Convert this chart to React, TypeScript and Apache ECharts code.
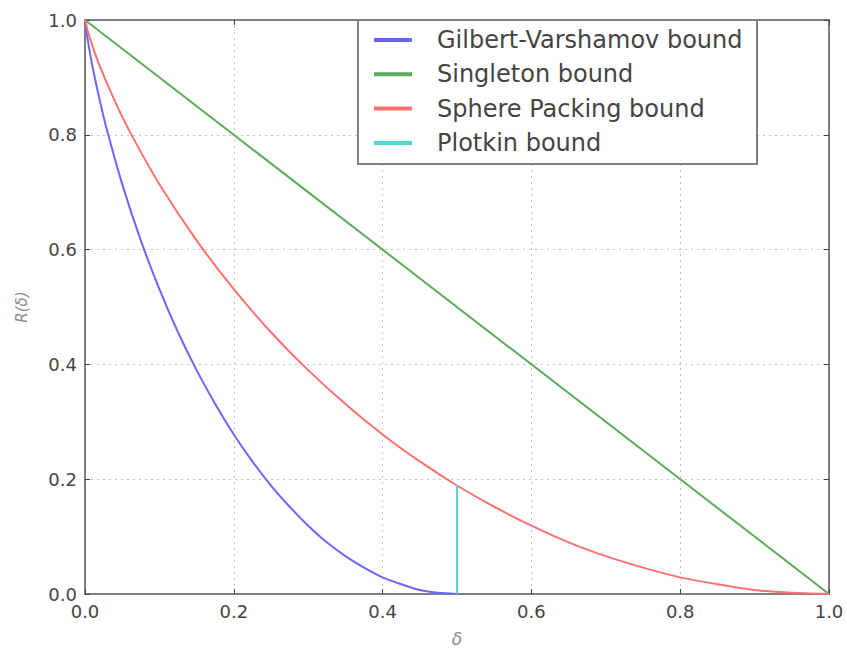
import React, { useEffect, useRef } from "react";
import * as echarts from "echarts";

// Gilbert-Varshamov bound
const deltaGV = [0, 0.0025, 0.005, 0.01, 0.02, 0.03, 0.05, 0.075, 0.1, 0.125, 0.15, 0.175, 0.2, 0.225, 0.25, 0.275, 0.3, 0.325, 0.35, 0.375, 0.4, 0.425, 0.45, 0.475, 0.5];
const rateGV = [1, 0.975, 0.955, 0.919, 0.859, 0.806, 0.714, 0.616, 0.531, 0.456, 0.39, 0.331, 0.278, 0.231, 0.189, 0.152, 0.119, 0.09, 0.066, 0.046, 0.029, 0.017, 0.007, 0.002, 0];

// Singleton bound
const deltaSingleton = [0, 1];
const rateSingleton = [1, 0];

// Sphere packing bound
const deltaSP = [0, 0.005, 0.01, 0.02, 0.04, 0.06, 0.1, 0.15, 0.2, 0.25, 0.3, 0.35, 0.4, 0.45, 0.5, 0.55, 0.6, 0.65, 0.7, 0.75, 0.8, 0.85, 0.9, 0.95, 1.0];
const rateSP = [1, 0.975, 0.955, 0.919, 0.859, 0.806, 0.714, 0.616, 0.531, 0.456, 0.39, 0.331, 0.278, 0.231, 0.189, 0.152, 0.119, 0.09, 0.066, 0.046, 0.029, 0.017, 0.007, 0.002, 0];

// Plotkin bound
const deltaPlotkin = [0.5, 0.5];
const ratePlotkin = [0, 0.19];

const seriesNames = ["Gilbert-Varshamov bound", "Singleton bound", "Sphere Packing bound", "Plotkin bound"];
const seriesColors = ["#6868ff", "#5aad5a", "#ff7070", "#55d6d6"];

const zip = (xs: number[], ys: number[]) => xs.map((x, i) => [x, ys[i]]);

export default function App() {
  const ref = useRef<HTMLDivElement>(null);
  useEffect(() => {
    document.body.style.margin = "0";
    const chart = echarts.init(ref.current!, null, { renderer: "svg" });
    const font = "DejaVu Sans";
    const frame = { show: true, onZero: false, lineStyle: { color: "#808080", width: 2 } };
    const tick = { show: true, inside: true, length: 5, lineStyle: { color: "#444", width: 1 } };
    const split = { show: true, lineStyle: { color: "#c4c4c4", type: [2, 4] as any, width: 1 } };
    const label = { show: true, fontSize: 18, color: "#444", fontFamily: font, margin: 8, formatter: (v: number) => v.toFixed(1) };
    const datasets = [
      zip(deltaGV, rateGV),
      zip(deltaSingleton, rateSingleton),
      zip(deltaSP, rateSP),
      zip(deltaPlotkin, ratePlotkin),
    ];
    chart.setOption({
      animation: false,
      backgroundColor: "#ffffff",
      grid: { left: 85, right: 18, top: 20, bottom: 57, containLabel: false },
      xAxis: [
        {
          type: "value", min: 0, max: 1, interval: 0.2, position: "bottom",
          axisLine: frame, axisTick: tick, splitLine: split, axisLabel: label,
          name: "δ", nameLocation: "middle", nameGap: 36,
          nameTextStyle: { fontSize: 17, fontStyle: "italic", color: "#8a8a8a", fontFamily: font },
        },
        {
          type: "value", min: 0, max: 1, interval: 0.2, position: "top",
          axisLine: frame, axisTick: tick, splitLine: { show: false }, axisLabel: { show: false },
        },
      ],
      yAxis: [
        {
          type: "value", min: 0, max: 1, interval: 0.2, position: "left",
          axisLine: frame, axisTick: tick, splitLine: split, axisLabel: label,
          name: "R(δ)", nameLocation: "middle", nameGap: 56,
          nameTextStyle: { fontSize: 15, fontStyle: "italic", color: "#8a8a8a", fontFamily: font },
        },
        {
          type: "value", min: 0, max: 1, interval: 0.2, position: "right",
          axisLine: frame, axisTick: tick, splitLine: { show: false }, axisLabel: { show: false },
        },
      ],
      legend: {
        show: true,
        orient: "vertical",
        left: 358,
        top: 20,
        padding: [8, 10, 9, 16],
        itemWidth: 38,
        itemHeight: 4,
        itemGap: 10.3,
        icon: "rect",
        backgroundColor: "#ffffff",
        borderColor: "#808080",
        borderWidth: 2,
        borderRadius: 0,
        data: seriesNames,
        textStyle: { fontSize: 24, color: "#444", fontFamily: font, padding: [0, 0, 0, 20], lineHeight: 22, width: 310 },
      },
      series: seriesNames.map((name, i) => ({
        name,
        type: "line",
        data: datasets[i],
        showSymbol: false,
        symbol: "none",
        smooth: i === 1 || i === 3 ? false : 0.2,
        color: seriesColors[i],
        lineStyle: { color: seriesColors[i], width: 2 },
        itemStyle: { color: seriesColors[i] },
        z: 2,
      })),
    });
    return () => chart.dispose();
  }, []);
  return <div ref={ref} style={{ width: 847, height: 652, position: "absolute", left: 0, top: 0 }} />;
}
